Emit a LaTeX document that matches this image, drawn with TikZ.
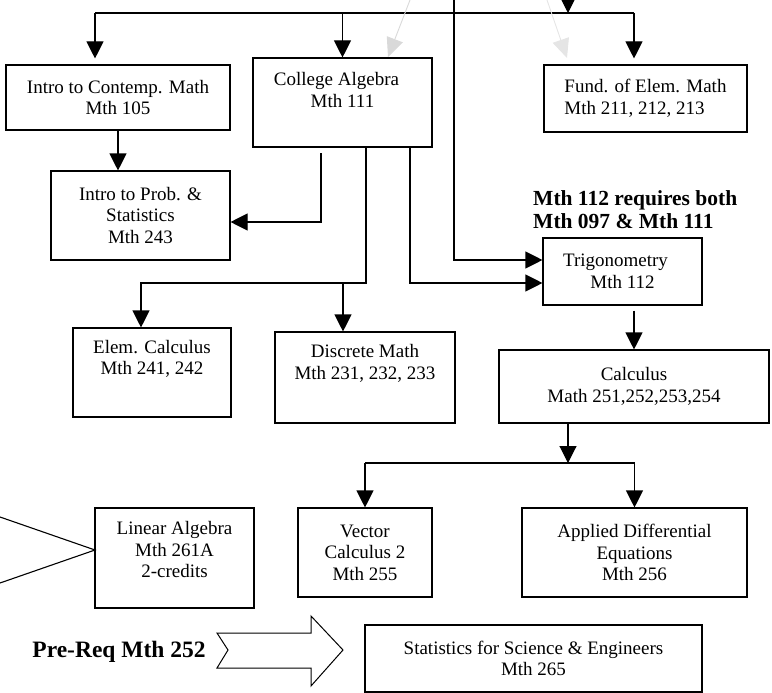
\documentclass[tikz,border=0pt]{standalone}
\usepackage{fontspec}
\setmainfont{Liberation Serif}
\usetikzlibrary{arrows.meta,positioning}

\tikzset{
  course/.style={draw, line width=1.1pt, inner sep=0pt, align=center,
    font=\fontsize{19}{21.5}\selectfont},
  coursetxt/.style={inner sep=0pt, align=center, font=\fontsize{19}{21.5}\selectfont},
  link/.style={line width=1.1pt, -{Triangle[length=17pt,width=17pt]}},
  wire/.style={line width=1.1pt},
  ghost/.style={line width=0.9pt, black!15, -{Triangle[length=19pt,width=17pt]}},
}

\begin{document}
\begin{tikzpicture}[x=1pt, y=-1pt]

    \useasboundingbox (0,0) rectangle (772,693);
    \clip (0,0) rectangle (772,693);

    % ---------- 课程框 ----------
    \node[course, minimum width=224pt, minimum height=65pt] (intro) at (118,97.5)
        {Intro to Contemp. Math\\Mth 105};
    \node[course, minimum width=179pt, minimum height=89pt] (colalg) at (342.5,102.5) {};
    \node[coursetxt] (colalgtxt) at ([yshift=-32.5pt]colalg.north) {College Algebra\hspace*{12pt}\\Mth 111};
    \node[course, align=left, minimum width=203pt, minimum height=67pt] (fund) at (645.5,98.5)
        {Fund. of Elem. Math\\Mth 211, 212, 213};

    \node[course, minimum width=179pt, minimum height=89pt] (prob) at (140.5,215.5)
        {Intro to Prob. \&\\Statistics\\Mth 243};
    \node[course, minimum width=159pt, minimum height=67pt] (trig) at (622.5,271.5)
        {Trigonometry\hspace*{14pt}\\Mth 112};

    \node[course, minimum width=158pt, minimum height=89pt] (elemcalc) at (152,372.5) {};
    \node[coursetxt] (elemcalctxt) at ([yshift=-31.5pt]elemcalc.north) {Elem. Calculus\\Mth 241, 242};
    \node[course, minimum width=180pt, minimum height=91pt] (discrete) at (365,377.5) {};
    \node[coursetxt] (discretetxt) at ([yshift=-32pt]discrete.north) {Discrete Math\\Mth 231, 232, 233};
    \node[course, minimum width=270pt, minimum height=73pt] (calc) at (634,386.5)
        {Calculus\\Math 251,252,253,254};

    \node[course, minimum width=159pt, minimum height=100pt] (linalg) at (174.5,558) {};
    \node[coursetxt] (linalgtxt) at ([yshift=-42.5pt]linalg.north) {Linear Algebra\\Mth 261A\\2-credits};
    \node[course, minimum width=134pt, minimum height=89pt] (vector) at (365,552.5)
        {Vector\\Calculus 2\\Mth 255};
    \node[course, minimum width=225pt, minimum height=89pt] (applied) at (634.5,552.5)
        {Applied Differential\\Equations\\Mth 256};
    \node[course, minimum width=337pt, minimum height=67pt] (stats) at (533.5,658.5)
        {Statistics for Science \& Engineers\\Mth 265};

    % ---------- 说明文字 ----------
    \node[inner sep=0pt, anchor=west, align=left, font=\fontsize{21.5}{23}\selectfont\bfseries]
        (trignote) at (533,209.5) {Mth 112 requires both\\Mth 097 \& Mth 111};
    \node[inner sep=0pt, font=\fontsize{23.5}{26}\selectfont\bfseries] (prereq) at (119,652)
        {Pre-Req Mth 252};

    % ---------- 顶部连线 ----------
    \coordinate (from097) at (454,-20);
    \coordinate (fromtop) at (568,-20);
    \coordinate (busL) at (95,13);
    \coordinate (busR) at (634,13);
    \draw[link] (from097) |- ([yshift=11.5pt]trig.west);
    \draw[link] (fromtop) -- (fromtop |- busL);
    \draw[wire] (busL) -- (busR);
    \draw[link, shorten >=6pt] (busL) -- (busL |- intro.north);
    \draw[link] (busL -| colalg.north) -- (colalg.north);
    \draw[link, shorten >=6pt] (busR) -- (busR |- fund.north);

    % 浅灰箭头
    \coordinate (ghostA) at (410,0);
    \coordinate (ghostAend) at (388,57);
    \coordinate (ghostB) at (547,0);
    \coordinate (ghostBend) at (567,58);
    \draw[ghost] (ghostA) -- (ghostAend);
    \draw[ghost, black!10] (ghostB) -- (ghostBend);

    % ---------- 中部连线 ----------
    \draw[link] (intro.south) -- (intro.south |- prob.north);

    \coordinate (alg1) at (321,153);
    \draw[link] (alg1) |- ([yshift=-6.5pt]prob.east);

    \coordinate (alg2) at ([xshift=23.5pt]colalg.south);
    \coordinate (elemturn) at (141,283);
    \coordinate (discturn) at (343,283);
    \draw[link] (alg2) |- (elemturn) -- (elemturn |- elemcalc.north);
    \draw[link] (discturn) -- (discturn |- discrete.north);

    \coordinate (alg3) at ([xshift=67.5pt]colalg.south);
    \draw[link] (alg3) |- ([yshift=-11.5pt]trig.west);

    \draw[link, shorten <=5pt] (trig.south -| calc.north) -- (calc.north);

    % ---------- 底部连线 ----------
    \coordinate (calcout) at ([xshift=-66pt]calc.south);
    \coordinate (busB) at (568,463);
    \draw[link] (calcout) -- (busB);
    \draw[wire] (busB -| vector.north) -- (busB -| applied.north);
    \draw[link] (busB -| vector.north) -- (vector.north);
    \draw[link] (busB -| applied.north) -- (applied.north);

    % 左侧尖角
    \coordinate (chevtip) at (95,550);
    \draw[wire] (0,517) -- (chevtip) -- (0,583);

    % 空心箭头
    \draw[line width=1pt] (217,633) -- (311,633) -- (311,616) -- (343,650)
        -- (311,686) -- (311,668) -- (217,668) -- (228,650) -- cycle;

\end{tikzpicture}
\end{document}
